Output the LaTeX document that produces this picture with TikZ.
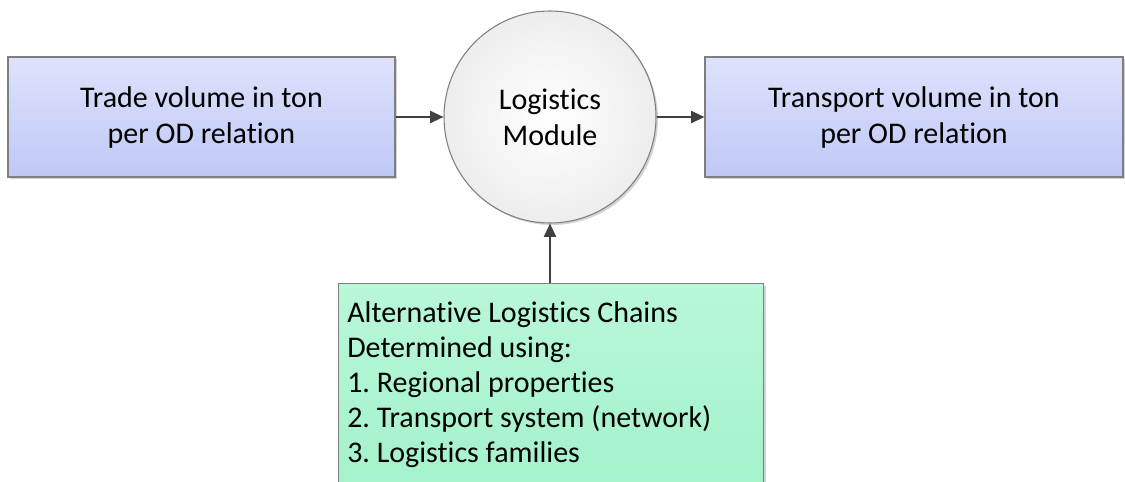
\documentclass[tikz,border=0pt]{standalone}
\usepackage{fontspec}
\setmainfont{Carlito}[RawFeature=-liga]
\usetikzlibrary{arrows.meta,shadows}
\definecolor{bordergray}{HTML}{7F7F7F}
\definecolor{arrowgray}{HTML}{404040}
\definecolor{bluetop}{HTML}{DEE2FC}
\definecolor{bluebot}{HTML}{BFC8F6}
\definecolor{greentop}{HTML}{B8F7D8}
\definecolor{greenbot}{HTML}{A2F2CA}
\frenchspacing
\begin{document}
\begin{tikzpicture}[x=0.75pt,y=-0.75pt,
  shad/.style={drop shadow={shadow xshift=1.5pt,shadow yshift=-1.5pt,opacity=0.35,fill=gray}},
  bluebox/.style={shad,draw=bordergray,line width=0.8pt,top color=bluetop,bottom color=bluebot,
    minimum height=90pt,align=center,font=\fontsize{22.5}{27}\selectfont,inner sep=0pt},
  modcircle/.style={shad,circle,draw=bordergray,line width=0.8pt,inner color=white,outer color=black!7,
    minimum size=159pt,align=center,font=\fontsize{22.5}{27}\selectfont,inner sep=0pt},
  greenbox/.style={shad,draw=bordergray,line width=0.8pt,top color=greentop,bottom color=greenbot},
  conn/.style={draw=arrowgray,line width=1.5pt,-{Triangle[length=10pt,width=9pt]}}
]
\useasboundingbox (0,0) rectangle (1125,482);
\node[bluebox,minimum width=290.25pt] (trade) at (201.5,117) {Trade volume in ton\\per OD relation};
\node[bluebox,minimum width=313.5pt] (transport) at (914,117) {Transport volume in ton\\per OD relation};
\node[modcircle] (logm) at (550,117) {Logistics\\Module};
\node[greenbox,minimum width=318.75pt,minimum height=165pt,anchor=north west] (alt) at (338,283) {};
\node[anchor=north west,align=left,inner sep=0pt,font=\fontsize{22.5}{26.25}\selectfont] (alttext) at (347,301)
  {Alternative Logistics Chains\\Determined using:\\1. Regional properties\\2. Transport system (network)\\3. Logistics families};
\draw[conn] (trade.east) -- (logm.west);
\draw[conn] (logm.east) -- (transport.west);
\draw[conn] (alt.north -| logm.south) -- (logm.south);
\end{tikzpicture}
\end{document}
